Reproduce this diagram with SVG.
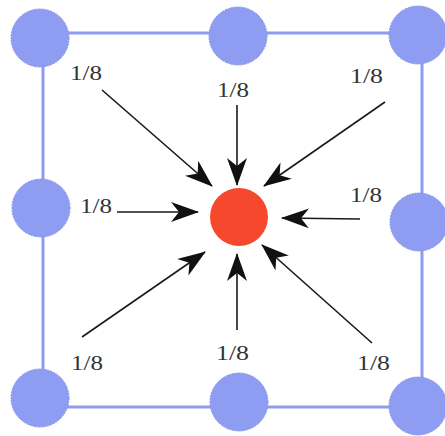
<svg xmlns="http://www.w3.org/2000/svg" width="445" height="436" viewBox="0 0 445 436">
<defs>
<style>
.edge{stroke:#8e9cf0;stroke-width:3;fill:none}
.blue{fill:#8e9cf2;stroke:#8494e8;stroke-width:1;stroke-dasharray:2 1}
.red{fill:#f5482c}
.arr{stroke:#1a1a1a;stroke-width:1.6;fill:none;marker-end:url(#ah)}
.lbl{font-family:"Liberation Serif","Times New Roman",serif;font-size:21px;fill:#333333}
</style>
<marker id="ah" markerWidth="28" markerHeight="22" refX="27" refY="11" orient="auto" markerUnits="userSpaceOnUse">
<path d="M0,1 L28,11 L0,21 L8,11 Z" fill="#111"/>
</marker>
</defs>
<rect width="445" height="436" fill="#ffffff"/>
<g id="grid-edges">
<line class="edge" x1="40" y1="33" x2="420" y2="33"/>
<line class="edge" x1="40" y1="407" x2="420" y2="407"/>
<line class="edge" x1="43" y1="36" x2="43" y2="400"/>
<line class="edge" x1="422" y1="35" x2="422" y2="406"/>
</g>
<g id="node-tl"><circle class="blue" cx="40" cy="38" r="29"/></g>
<g id="node-tm"><circle class="blue" cx="238" cy="36" r="29"/></g>
<g id="node-tr"><circle class="blue" cx="418" cy="35" r="29"/></g>
<g id="node-ml"><circle class="blue" cx="41" cy="208" r="29"/></g>
<g id="node-mr"><circle class="blue" cx="419" cy="222" r="29"/></g>
<g id="node-bl"><circle class="blue" cx="40" cy="398" r="29"/></g>
<g id="node-bm"><circle class="blue" cx="239" cy="402" r="29"/></g>
<g id="node-br"><circle class="blue" cx="418" cy="406" r="29"/></g>
<g id="node-center"><circle class="red" cx="239" cy="217" r="29"/></g>
<g id="connectors">
<line class="arr" x1="102" y1="90" x2="212" y2="186"/>
<line class="arr" x1="237" y1="105" x2="237" y2="185"/>
<line class="arr" x1="385" y1="102" x2="264" y2="186"/>
<line class="arr" x1="117" y1="212" x2="198" y2="212"/>
<line class="arr" x1="360" y1="219" x2="282" y2="218"/>
<line class="arr" x1="82" y1="337" x2="205" y2="252"/>
<line class="arr" x1="237" y1="330" x2="237" y2="254"/>
<line class="arr" x1="372" y1="343" x2="262" y2="245"/>
</g>
<g id="labels">
<text class="lbl" x="70" y="80" textLength="32" lengthAdjust="spacingAndGlyphs">1/8</text>
<text class="lbl" x="217" y="97" textLength="32" lengthAdjust="spacingAndGlyphs">1/8</text>
<text class="lbl" x="350" y="83" textLength="33" lengthAdjust="spacingAndGlyphs">1/8</text>
<text class="lbl" x="80" y="213" textLength="32" lengthAdjust="spacingAndGlyphs">1/8</text>
<text class="lbl" x="350" y="202" textLength="32" lengthAdjust="spacingAndGlyphs">1/8</text>
<text class="lbl" x="71" y="370" textLength="32" lengthAdjust="spacingAndGlyphs">1/8</text>
<text class="lbl" x="216" y="360" textLength="33" lengthAdjust="spacingAndGlyphs">1/8</text>
<text class="lbl" x="357" y="370" textLength="33" lengthAdjust="spacingAndGlyphs">1/8</text>
</g>
</svg>
